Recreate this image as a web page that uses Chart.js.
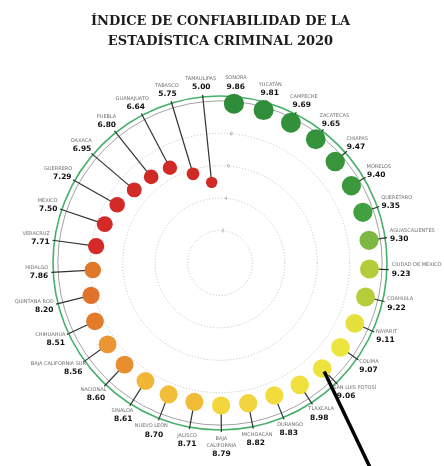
<!DOCTYPE html>
<html>
<head>
<meta charset="utf-8">
<script src="https://cdn.jsdelivr.net/npm/chart.js"></script>
<style>
  html, body { margin: 0; padding: 0; background: #fff; }
  #caixa { width: 444px; height: 466px; }
</style>
</head>
<body>
<div id="caixa"><canvas id="grafico1"></canvas></div>
<script>
// ordem horaria a partir do topo
const estados = ['SONORA', 'YUCATÁN', 'CAMPECHE', 'ZACATECAS', 'CHIAPAS', 'MORELOS', 'QUERÉTARO',
  'AGUASCALIENTES', 'CIUDAD DE MÉXICO', 'COAHUILA', 'NAYARIT', 'COLIMA', 'SAN LUIS POTOSÍ',
  'TLAXCALA', 'DURANGO', 'MICHOACÁN', ['BAJA', 'CALIFORNIA'], 'JALISCO', 'NUEVO LEÓN', 'SINALOA',
  'NACIONAL', 'BAJA CALIFORNIA SUR', 'CHIHUAHUA', 'QUINTANA ROO', 'HIDALGO', 'VERACRUZ',
  'MÉXICO', 'GUERRERO', 'OAXACA', 'PUEBLA', 'GUANAJUATO', 'TABASCO', 'TAMAULIPAS'];
const valores = [9.86, 9.81, 9.69, 9.65, 9.47, 9.40, 9.35, 9.30, 9.23, 9.22, 9.11, 9.07, 9.06,
  8.98, 8.83, 8.82, 8.79, 8.71, 8.70, 8.61, 8.60, 8.56, 8.51, 8.20, 7.86, 7.71,
  7.50, 7.29, 6.95, 6.80, 6.64, 5.75, 5.00];
const coresPontos = ['#2f8c3b', '#308e3b', '#32903b', '#35933c', '#38953c', '#3b983d', '#41a03f',
  '#7cb843', '#b3cd3a', '#b5cd3a', '#e4e03e', '#ece53e', '#eee33e',
  '#f0e03d', '#f3db3e', '#f2d43f', '#f2d63c', '#f1bb36', '#f2bd39', '#f2b636',
  '#e88e2f', '#ea9632', '#e27c2b', '#e0722a', '#e07729', '#d42b27',
  '#d32a27', '#d22a26', '#d22a26', '#d12a26', '#d12a26', '#d12a26', '#d12a26'];
const aneis = [0, 2, 4, 6, 8, 10];
const escalaMax = 10.3;
const titulo = ['ÍNDICE DE CONFIABILIDAD DE LA', 'ESTADÍSTICA CRIMINAL 2020'];
const indicePonteiro = 12; // San Luis Potosí

const hastes = {
  id: 'hastes',
  beforeDatasetsDraw(chart) {
    const ctx = chart.ctx;
    const r = chart.scales.r;
    ctx.save();
    ctx.strokeStyle = '#333';
    ctx.lineWidth = 1.2;
    valores.forEach((v, i) => {
      const a = r.getPointPositionForValue(i, v);
      const b = r.getPointPosition(i, r.drawingArea + 2);
      ctx.beginPath();
      ctx.moveTo(a.x, a.y);
      ctx.lineTo(b.x, b.y);
      ctx.stroke();
    });
    ctx.restore();
  },
  afterDatasetsDraw(chart) {
    const ctx = chart.ctx;
    const r = chart.scales.r;
    ctx.save();
    // rotulos
    ctx.textAlign = 'left';
    ctx.textBaseline = 'middle';
    valores.forEach((v, i) => {
      const p = r.getPointPosition(i, r.drawingArea + 5);
      const s = Math.cos(p.angle);
      const c = -Math.sin(p.angle);
      const linhas = [].concat(estados[i]);
      const hNome = 7, hValor = 10;
      const H = linhas.length * hNome + hValor;
      let y = p.y - H * (1 + c) / 2;
      ctx.font = '5px "DejaVu Sans"';
      ctx.fillStyle = '#6f6f6f';
      linhas.forEach(l => {
        const w = ctx.measureText(l).width;
        ctx.fillText(l, p.x - w * (1 - s) / 2, y + hNome / 2);
        y += hNome;
      });
      ctx.font = 'bold 7.5px "DejaVu Sans"';
      ctx.fillStyle = '#111';
      const txt = v.toFixed(2);
      const w = ctx.measureText(txt).width;
      ctx.fillText(txt, p.x - w * (1 - s) / 2, y + hValor / 2);
    });
    // ponteiro preto
    const a = r.getPointPositionForValue(indicePonteiro, valores[indicePonteiro]);
    ctx.strokeStyle = '#000';
    ctx.lineWidth = 3.5;
    ctx.beginPath();
    ctx.moveTo(a.x + 2, a.y + 3);
    ctx.lineTo(a.x + 2 + 0.43 * 220, a.y + 3 + 0.9 * 220);
    ctx.stroke();
    ctx.restore();
  }
};

const grafico1 = new Chart(document.getElementById('grafico1'), {
  type: 'radar',
  data: {
    labels: estados,
    datasets: [{
      data: valores,
      borderColor: 'transparent',
      borderWidth: 0,
      fill: false,
      pointBackgroundColor: coresPontos,
      pointBorderWidth: 0,
      pointRadius: ctx => 0.9 * valores[ctx.dataIndex] + 1.2
    }]
  },
  options: {
    responsive: true,
    maintainAspectRatio: false,
    animation: false,
    layout: { padding: { left: 50, right: 53, top: 0, bottom: 32 } },
    plugins: {
      legend: { display: false },
      tooltip: { enabled: false },
      title: {
        display: true,
        text: titulo,
        color: '#1c1c1c',
        font: { family: '"DejaVu Serif"', size: 13, weight: 'bold', lineHeight: 1.54 },
        padding: { top: 12, bottom: 41 }
      }
    },
    scales: {
      r: {
        min: 0,
        max: escalaMax,
        startAngle: 5,
        afterBuildTicks: s => { s.ticks = aneis.concat([escalaMax]).map(v => ({ value: v })); },
        angleLines: { display: false },
        pointLabels: { display: false },
        grid: {
          circular: true,
          color: c => c.tick.value > 10 ? '#45b068' : (c.tick.value === 10 ? '#8a8a8a' : '#b0b0b0'),
          lineWidth: c => c.tick.value > 10 ? 1.6 : 0.8
        },
        border: { dash: c => (c.tick && c.tick.value < 10) ? [1, 2] : [] },
        ticks: {
          font: { size: 5 },
          color: '#888',
          showLabelBackdrop: false,
          backdropPadding: 0,
          callback: v => v >= 10 ? '' : v
        }
      }
    }
  },
  plugins: [hastes]
});
</script>
</body>
</html>
